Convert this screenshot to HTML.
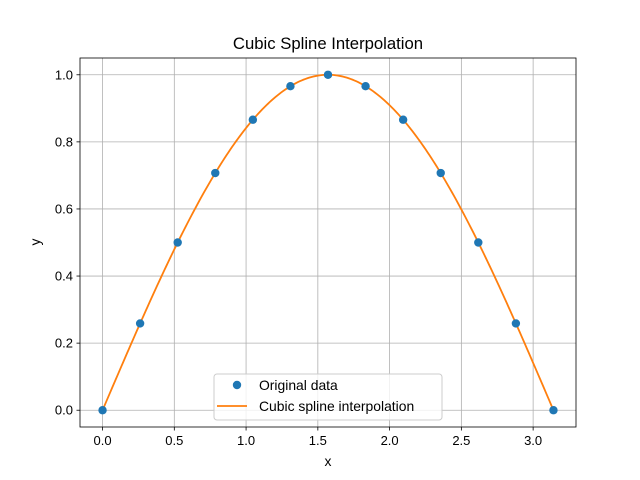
<!DOCTYPE html>
<html><head><meta charset="utf-8"><style>
body{margin:0;background:#fff;}
svg{display:block;font-family:"Liberation Sans","DejaVu Sans",sans-serif;}
</style></head><body>
<svg id="chart" width="640" height="480" viewBox="0 0 640 480">
<rect width="640" height="480" fill="#fff"/>
<g id="grid"></g>
<g id="ticks"></g>
<g id="series"></g>
<rect x="80" y="58" width="496" height="369" fill="none" stroke="#000" stroke-width="0.8"/>
<text x="328" y="49" font-size="16.7" text-anchor="middle">Cubic Spline Interpolation</text>
<text x="328" y="466" font-size="13.9" text-anchor="middle">x</text>
<text x="40" y="242" font-size="13.9" text-anchor="middle" transform="rotate(-90 40 242)">y</text>
<g>
<rect x="214" y="374" width="228" height="46" rx="3" fill="#fff" fill-opacity="0.8" stroke="#ccc"/>
<circle cx="237" cy="385" r="4.2" fill="#1f77b4"/>
<text x="259" y="390" font-size="13.9">Original data</text>
<line x1="217" y1="406" x2="247" y2="406" stroke="#ff7f0e" stroke-width="1.8"/>
<text x="259" y="411" font-size="13.9">Cubic spline interpolation</text>
</g>
</svg>
<script>
const xData=[0,0.2618,0.5236,0.7854,1.0472,1.309,1.5708,1.8326,2.0944,2.3562,2.618,2.8798,3.1416];
const yData=[0,0.2588,0.5,0.7071,0.866,0.9659,1,0.9659,0.866,0.7071,0.5,0.2588,0];
const xTicks=[0,0.5,1,1.5,2,2.5,3];
const xTickLabels=["0.0","0.5","1.0","1.5","2.0","2.5","3.0"];
const yTicks=[0,0.2,0.4,0.6,0.8,1.0];
const yTickLabels=["0.0","0.2","0.4","0.6","0.8","1.0"];
const NS='http://www.w3.org/2000/svg';
const L=80,R=576,T=58,B=427;
const xmin=-0.15708,xmax=3.29867,ymin=-0.05,ymax=1.05;
const sx=v=>L+(v-xmin)/(xmax-xmin)*(R-L);
const sy=v=>B-(v-ymin)/(ymax-ymin)*(B-T);
function mk(tag,attrs,parent){const e=document.createElementNS(NS,tag);for(const k in attrs)e.setAttribute(k,attrs[k]);parent.appendChild(e);return e;}
const grid=document.getElementById('grid'),ticks=document.getElementById('ticks'),series=document.getElementById('series');
xTicks.forEach((v,i)=>{const x=sx(v);
 const g=mk('line',{x1:x,x2:x,y1:T,y2:B,stroke:'#b0b0b0','stroke-width':0.8},grid);
 
 
 const t=mk('line',{x1:x,x2:x,y1:B,y2:B+3.5,stroke:'#000','stroke-width':0.8},ticks);
 
 
 const l=mk('text',{x:x,y:B+18,'font-size':13,'text-anchor':'middle'},ticks);l.textContent=xTickLabels[i];
 
 
});
yTicks.forEach((v,i)=>{const y=sy(v);
 const g=mk('line',{x1:L,x2:R,y1:y,y2:y,stroke:'#b0b0b0','stroke-width':0.8},grid);
 
 
 const t=mk('line',{x1:L-3.5,x2:L,y1:y,y2:y,stroke:'#000','stroke-width':0.8},ticks);
 
 
 const l=mk('text',{x:L-7,y:y+4.5,'font-size':13,'text-anchor':'end'},ticks);l.textContent=yTickLabels[i];
 
 
});
const n=xData.length,h=[],al=[0],l=[1],mu=[0],z=[0],c=new Array(n).fill(0),b=[],d=[];
for(let i=0;i<n-1;i++)h.push(xData[i+1]-xData[i]);
for(let i=1;i<n-1;i++)al[i]=3/h[i]*(yData[i+1]-yData[i])-3/h[i-1]*(yData[i]-yData[i-1]);
for(let i=1;i<n-1;i++){l[i]=2*(xData[i+1]-xData[i-1])-h[i-1]*mu[i-1];mu[i]=h[i]/l[i];z[i]=(al[i]-h[i-1]*z[i-1])/l[i];}
for(let j=n-2;j>=0;j--){c[j]=z[j]-mu[j]*c[j+1];b[j]=(yData[j+1]-yData[j])/h[j]-h[j]*(c[j+1]+2*c[j])/3;d[j]=(c[j+1]-c[j])/(3*h[j]);}
let pts=[];
for(let j=0;j<n-1;j++){for(let k=0;k<=20;k++){const t=h[j]*k/20;const y=yData[j]+b[j]*t+c[j]*t*t+d[j]*t*t*t;pts.push(sx(xData[j]+t).toFixed(2)+','+sy(y).toFixed(2));}}
const line=mk('polyline',{points:pts.join(' '),fill:'none',stroke:'#ff7f0e','stroke-width':1.8},series);


xData.forEach((v,i)=>{const p=mk('circle',{cx:sx(v),cy:sy(yData[i]),r:4.2,fill:'#1f77b4'},series);
 
 
});
</script>
</body></html>
